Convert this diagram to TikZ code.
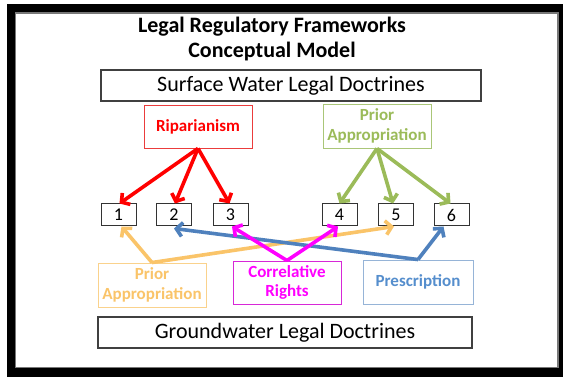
\documentclass[tikz,border=0pt]{standalone}
\usepackage{fontspec}
\setmainfont{Carlito}
\usetikzlibrary{arrows.meta}
\definecolor{ripc}{RGB}{255,0,0}
\definecolor{ripb}{RGB}{235,60,60}
\definecolor{grc}{RGB}{155,187,89}
\definecolor{grb}{RGB}{170,198,120}
\definecolor{ylc}{RGB}{250,196,105}
\definecolor{ylb}{RGB}{250,210,140}
\definecolor{mgc}{RGB}{255,0,255}
\definecolor{mgb}{RGB}{215,40,215}
\definecolor{blc}{RGB}{79,129,189}
\definecolor{blt}{RGB}{85,142,205}
\definecolor{blb}{RGB}{150,180,215}
\definecolor{frameline}{RGB}{120,120,120}
\tikzset{
  docbox/.style={draw=black!75, line width=1.1pt, inner sep=0pt, font=\fontsize{22}{26}\selectfont},
  numbox/.style={draw=black!80, line width=1pt, minimum width=35pt, minimum height=22pt, inner sep=0pt, font=\fontsize{18}{20}\selectfont},
  catbox/.style={line width=0.9pt, inner sep=0pt, minimum width=108pt, align=center, font=\fontsize{17}{19.5}\selectfont\bfseries},
  arr/.style={line width=3.6pt, -{Straight Barb[length=6pt,width=14pt]}},
  titletext/.style={font=\fontsize{22}{26}\selectfont\bfseries, anchor=base, inner sep=0pt}
}
\begin{document}
\begin{tikzpicture}[x=1pt,y=-1pt]
\useasboundingbox (0,0) rectangle (563,377);
\fill[black] (7,4) rectangle (563,377);
\fill[white] (15.5,13) rectangle (558,367.5);
\draw[frameline, line width=1.3pt] (15.5,13) rectangle (558,367.5);

\node[titletext] (t1) at (272,33) {Legal Regulatory Frameworks};
\node[titletext] (t2) at (272,58) {Conceptual Model};

\node[docbox, minimum width=380pt, minimum height=31pt] (sw) at (291,85.5) {Surface Water Legal Doctrines};
\node[docbox, minimum width=374pt, minimum height=31pt] (gw) at (285,332.5) {Groundwater Legal Doctrines};

\node[catbox, draw=ripb, text=ripc, minimum height=43pt] (rip) at (198,126.5) {Riparianism};
\node[catbox, draw=grb, text=grc, minimum height=44pt] (pas) at (377,126) {Prior\\Appropriation};
\node[catbox, draw=ylb, text=ylc, minimum height=44pt] (pag) at (152,285) {Prior\\Appropriation};
\node[catbox, draw=mgb, text=mgc, minimum height=43pt] (cr) at (287,282.5) {Correlative\\Rights};
\node[catbox, draw=blb, text=blt, minimum width=110pt, minimum height=44pt] (pr) at (418,282) {Prescription};

\node[numbox] (n1) at (118.5,215) {1};
\node[numbox] (n2) at (174,215) {2};
\node[numbox] (n3) at (230.5,215) {3};
\node[numbox] (n4) at (339.5,215) {4};
\node[numbox] (n5) at (396,215) {5};
\node[numbox] (n6) at (451.5,215) {6};

\draw[arr, ripc] (rip.south) -- ([xshift=1pt]n1.north);
\draw[arr, ripc] (rip.south) -- ([xshift=1pt]n2.north);
\draw[arr, ripc] (rip.south) -- ([xshift=-1pt]n3.north);

\draw[arr, grc] (pas.south) -- (n4.north);
\draw[arr, grc] (pas.south) -- ([xshift=-3pt]n5.north);
\draw[arr, grc] (pas.south) -- ([xshift=-1pt]n6.north);

\draw[arr, ylc] (pag.north) -- ([xshift=3pt]n1.south);
\draw[arr, ylc] (pag.north) -- ([xshift=-2pt]n5.south);

\draw[arr, blc] (pr.north) -- ([yshift=-2pt]n2.south);
\draw[arr, blc] (pr.north) -- ([xshift=-8pt]n6.south);

\draw[arr, mgc] (cr.north) -- ([xshift=1.5pt]n3.south);
\draw[arr, mgc] (cr.north) -- ([xshift=-1.5pt]n4.south);
\end{tikzpicture}
\end{document}
